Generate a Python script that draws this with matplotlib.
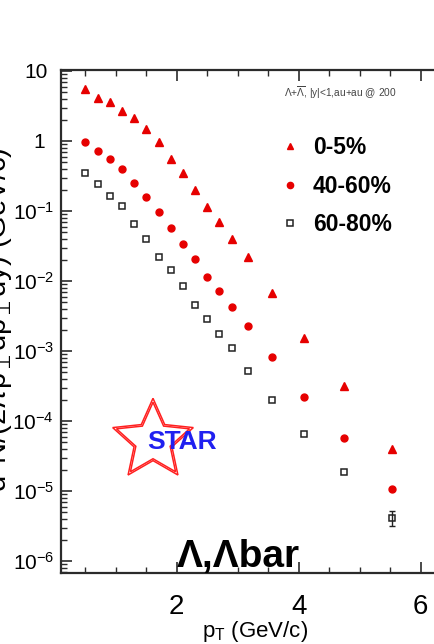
import numpy as np
import matplotlib.pyplot as plt
from matplotlib.ticker import FixedLocator, FixedFormatter, MultipleLocator, LogLocator, NullFormatter
from matplotlib.transforms import ScaledTranslation

plt.rcParams['font.family'] = ['Liberation Sans', 'DejaVu Sans']
plt.rcParams['mathtext.fontset'] = 'custom'
plt.rcParams['mathtext.rm'] = 'Liberation Sans'
plt.rcParams['mathtext.it'] = 'Liberation Sans:italic'
plt.rcParams['mathtext.bf'] = 'Liberation Sans:bold'

# Lambda + anti-Lambda pT spectra, Au+Au 200 GeV, three centralities
pt = [0.5, 0.7, 0.9, 1.1, 1.3, 1.5, 1.7, 1.9, 2.1, 2.3, 2.5, 2.7, 2.9,
      3.17, 3.57, 4.09, 4.74, 5.54]
cent_0_5 = [5.48, 4.07, 3.64, 2.71, 2.11, 1.50, 0.958, 0.548, 0.346, 0.200,
            0.115, 0.069, 0.0402, 0.0217, 0.0068, 1.52e-3, 3.16e-4, 3.98e-5]
cent_40_60 = [0.977, 0.727, 0.553, 0.398, 0.254, 0.160, 0.0957, 0.0578, 0.0341,
              0.0204, 0.0115, 7.28e-3, 4.25e-3, 2.3e-3, 8.3e-4, 2.2e-4, 5.78e-5, 1.07e-5]
cent_60_80 = [0.353, 0.240, 0.162, 0.118, 0.0659, 0.0394, 0.022, 0.0142, 8.49e-3,
              4.49e-3, 2.9e-3, 1.77e-3, 1.09e-3, 5.18e-4, 2.0e-4, 6.46e-5, 1.89e-5, 4.16e-6]
err_60_80 = [0, 0, 0, 0, 0, 0, 0, 0, 0, 0, 0, 0, 0, 0, 0, 0, 0, 0.95e-6]

labels = ['0-5%', '40-60%', '60-80%']
yticks = [1e-6, 1e-5, 1e-4, 1e-3, 1e-2, 1e-1, 1, 10]
ytick_labels = ['$10^{-6}$', '$10^{-5}$', '$10^{-4}$', '$10^{-3}$',
                '$10^{-2}$', '$10^{-1}$', '1', '10']
xticks = [2, 4, 6]

W, H = 435, 644
fig = plt.figure(figsize=(W / 100, H / 100), dpi=100)
ax = fig.add_axes([61 / W, 1 - 573 / H, (451 - 61) / W, (573 - 70) / H])

red = '#e60000'
h1, = ax.plot(pt, cent_0_5, '^', color=red, ms=5.2, mec=red, ls='none')
h2, = ax.plot(pt, cent_40_60, 'o', color=red, ms=5.0, mec=red, ls='none')
h3, = ax.plot(pt, cent_60_80, 's', mfc='none', mec='#222222', mew=1.1, ms=4.6, ls='none')

# error bars only where they stick out of the marker
pt_a = np.array(pt)
e = np.array(err_60_80)
m = e > 0
ax.errorbar(pt_a[m], np.array(cent_60_80)[m], yerr=e[m], fmt='none',
            ecolor='#222222', elinewidth=1.0, capsize=2.5, capthick=1.0)

ax.set_yscale('log')
ax.set_xlim(0.1, 6.5)
ax.set_ylim(10 ** -6.17, 10 ** 1.014)

ax.yaxis.set_major_locator(FixedLocator(yticks))
ax.yaxis.set_major_formatter(FixedFormatter(ytick_labels))
ax.yaxis.set_minor_locator(LogLocator(base=10, subs=np.arange(2, 10)))
ax.yaxis.set_minor_formatter(NullFormatter())
ax.xaxis.set_major_locator(FixedLocator(xticks))
ax.xaxis.set_minor_locator(MultipleLocator(0.5))

ax.tick_params(which='both', direction='in', top=True, right=True, color='#2b2b2b')
ax.tick_params(which='major', length=8, width=1.2)
ax.tick_params(which='minor', length=4, width=1.0)
ax.tick_params(axis='x', which='major', labelsize=20, pad=15)
ax.tick_params(axis='y', which='major', labelsize=15, pad=5)
for s in ax.spines.values():
    s.set_linewidth(1.6)
    s.set_color('#2b2b2b')

# "1" and "10" sit a little further left than the powers of ten
for lab in ax.get_yticklabels():
    shift = {'1': -9, '10': -6}.get(lab.get_text(), 0)
    if shift:
        lab.set_transform(lab.get_transform() + ScaledTranslation(shift / 100, 0, fig.dpi_scale_trans))

fig.text(255 / W, 1 - 631 / H, r'p$_\mathrm{T}$ (GeV/c)', fontsize=16,
         ha='center', va='center')
fig.text(15 / W, 1 - 320 / H, r'd$^2$N/(2$\pi$p$_\perp$dp$_\perp$dy) (GeV/c)',
         fontsize=21, rotation=90, ha='right', va='center')

fig.text(284 / W, 1 - 93 / H, r'$\Lambda$+$\overline{\Lambda}$, |y|<1,au+au @ 200',
         fontsize=7.3, color='#444444', ha='left', va='center')

ax.legend([h1, h2, h3], labels, loc='upper left',
          bbox_to_anchor=(278.5 / W, 1 - 136 / H), bbox_transform=fig.transFigure,
          frameon=False, borderpad=0, borderaxespad=0, handlelength=1.0,
          handletextpad=0.5, labelspacing=0.68, markerscale=0.9,
          prop={'weight': 'bold', 'size': 16.5})

fig.text(176.7 / W, 1 - 566.7 / H, 'Λ,Λbar', fontsize=28, fontweight='bold',
         ha='left', va='baseline')

# STAR logo: double red star outline with blue lettering
cx, cy = 153, 440.7
for R in (42.4, 38.4):
    ang = np.deg2rad(90 + 36 * np.arange(10))
    rr = np.where(np.arange(10) % 2 == 0, R, R * 0.47)
    px = cx + rr * np.cos(ang)
    py = cy - rr * np.sin(ang)
    star = plt.Polygon(np.column_stack([px / W, 1 - py / H]), closed=True,
                       fill=False, ec='#ff2020', lw=1.1, transform=fig.transFigure)
    fig.add_artist(star)
fig.text(182.5 / W, 1 - 441.7 / H, 'STAR', fontsize=19, fontweight='bold',
         color='#2020f0', ha='center', va='center')

fig.savefig('out.png', dpi=100)
